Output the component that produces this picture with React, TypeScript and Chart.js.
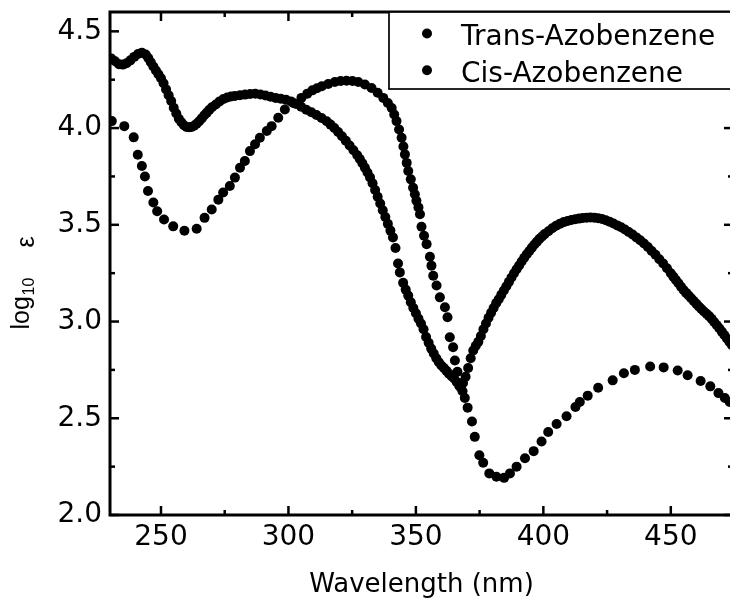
import React, { useEffect, useRef } from "react";
import { Chart, registerables } from "chart.js";

Chart.register(...registerables);

// ---- Data ----
const seriesLabels = ["Trans-Azobenzene", "Cis-Azobenzene"];

const transWavelength = [
  230.7, 235.6, 239.3, 240.9, 242.5, 243.7, 244.9, 247.0, 248.5, 251.2, 254.8, 259.2,
  264.0, 267.1, 269.9, 272.5, 274.4, 277.0, 279.0, 281.0, 282.9, 284.9, 286.9, 288.8,
  291.5, 293.4, 296.0, 298.6, 301.9, 305.1, 307.4, 309.4, 311.2, 313.1, 315.6, 318.2,
  320.5, 322.8, 325.1, 327.4, 330.0, 332.6, 335.0, 337.2, 339.0, 340.5, 341.5, 342.4,
  343.4, 344.4, 345.1, 345.7, 346.4, 347.0, 348.0, 348.9, 349.6, 350.2, 351.0, 351.6,
  352.2, 353.2, 354.2, 355.5, 356.1, 356.8, 358.1, 359.4, 361.4, 362.4, 363.3, 364.6,
  365.3, 366.3, 367.3, 368.3, 369.2, 370.3, 372.0, 373.1, 374.9, 376.4, 378.8, 381.6,
  384.6, 386.9, 389.5, 392.8, 396.2, 399.3, 401.9, 405.2, 409.1, 412.6, 414.3, 417.4,
  421.5, 427.2, 431.6, 435.9, 441.9, 447.2, 452.7, 456.6, 461.7, 465.5, 468.7, 471.2,
  473.1,
];
const transLogE = [
  4.036, 4.010, 3.952, 3.862, 3.804, 3.750, 3.675, 3.615, 3.570, 3.527, 3.492, 3.469,
  3.480, 3.536, 3.579, 3.630, 3.667, 3.701, 3.744, 3.795, 3.830, 3.881, 3.916, 3.950,
  3.985, 4.010, 4.053, 4.096, 4.130, 4.156, 4.178, 4.195, 4.206, 4.216, 4.228, 4.238,
  4.243, 4.245, 4.243, 4.238, 4.225, 4.207, 4.183, 4.156, 4.130, 4.104, 4.070, 4.036,
  3.993, 3.950, 3.905, 3.864, 3.820, 3.778, 3.735, 3.692, 3.658, 3.624, 3.590, 3.555,
  3.490, 3.443, 3.400, 3.335, 3.289, 3.237, 3.186, 3.125, 3.074, 3.022, 2.919, 2.867,
  2.799, 2.740, 2.680, 2.640, 2.605, 2.555, 2.483, 2.404, 2.309, 2.270, 2.215, 2.198,
  2.192, 2.215, 2.250, 2.293, 2.330, 2.380, 2.429, 2.470, 2.510, 2.558, 2.584, 2.617,
  2.658, 2.696, 2.733, 2.750, 2.768, 2.763, 2.747, 2.722, 2.693, 2.665, 2.630, 2.605,
  2.584,
];

const cisWavelength = [
  230.5, 232, 233.5, 235, 236.5, 238, 239.5, 241, 242.5, 244, 245, 246, 247, 248, 249, 250,
  251, 252, 253, 254, 255, 256, 257, 258, 259, 260, 261, 262, 263, 264, 265, 266, 267, 268,
  269, 270, 271.5, 273, 274.5, 276, 277.5, 279, 281, 283, 285, 287, 289, 291, 293, 295, 297,
  299, 301, 303, 305, 307, 309, 311, 313, 315, 316.5, 318, 319.5, 321, 322.5, 324, 325.5,
  327, 328, 329, 330, 331, 332, 333, 334, 335, 336, 337, 338, 339, 340, 341, 342, 343,
  343.7, 345, 346, 347, 348, 349, 350, 351, 352, 353, 354, 355, 356, 357, 358, 359, 360,
  361, 362, 363, 364, 365, 366, 367, 367.5, 368.5, 369.5, 370.5, 371.5, 372.5, 373.5, 374.5,
  375.5, 376.5, 377.5, 378.5, 379.5, 380.5, 381.5, 382.5, 383.5, 384.5, 385.5, 386.5, 387.5,
  388.5, 389.5, 390.5, 391.5, 392.5, 393.5, 394.5, 395.5, 396.5, 397.5, 398.5, 399.5, 400.5,
  402, 403.5, 405, 406.5, 408, 409.5, 411, 412.5, 414, 415.5, 417, 418.5, 420, 421.5, 423,
  424.5, 426, 427.5, 429, 430.5, 432, 433.5, 435, 436.5, 438, 439.5, 441, 442.5, 444, 445.5,
  447, 448.5, 450, 451, 452, 453, 454, 455, 456, 457, 458, 459, 460, 461, 462, 463, 464, 465,
  466, 467, 468, 469, 470, 471, 472, 473, 474,
];
const cisLogE = [
  4.360, 4.345, 4.330, 4.328, 4.335, 4.350, 4.368, 4.383, 4.390, 4.380, 4.362, 4.340, 4.318,
  4.298, 4.278, 4.258, 4.232, 4.200, 4.170, 4.140, 4.105, 4.075, 4.048, 4.030, 4.015, 4.006,
  4.004, 4.006, 4.012, 4.022, 4.035, 4.050, 4.066, 4.080, 4.095, 4.108, 4.122, 4.138, 4.150,
  4.158, 4.163, 4.166, 4.170, 4.173, 4.176, 4.177, 4.174, 4.168, 4.162, 4.156, 4.152, 4.147,
  4.138, 4.125, 4.110, 4.095, 4.082, 4.068, 4.052, 4.035, 4.018, 4.000, 3.980, 3.958, 3.935,
  3.910, 3.885, 3.860, 3.840, 3.818, 3.795, 3.770, 3.745, 3.715, 3.680, 3.645, 3.610, 3.575,
  3.540, 3.505, 3.470, 3.435, 3.380, 3.300, 3.254, 3.200, 3.165, 3.134, 3.100, 3.070, 3.043,
  3.015, 2.990, 2.960, 2.920, 2.890, 2.860, 2.835, 2.810, 2.790, 2.773, 2.760, 2.745, 2.730,
  2.718, 2.706, 2.688, 2.668, 2.660, 2.682, 2.715, 2.760, 2.810, 2.850, 2.875, 2.895, 2.925,
  2.960, 2.990, 3.020, 3.045, 3.070, 3.095, 3.115, 3.138, 3.160, 3.182, 3.205, 3.228, 3.250,
  3.270, 3.290, 3.310, 3.330, 3.348, 3.365, 3.382, 3.398, 3.413, 3.428, 3.440, 3.452, 3.467,
  3.482, 3.495, 3.505, 3.514, 3.520, 3.525, 3.529, 3.532, 3.535, 3.537, 3.538, 3.537, 3.534,
  3.530, 3.524, 3.516, 3.507, 3.497, 3.487, 3.476, 3.463, 3.450, 3.435, 3.420, 3.403, 3.385,
  3.365, 3.345, 3.322, 3.300, 3.275, 3.250, 3.232, 3.215, 3.198, 3.180, 3.163, 3.148, 3.135,
  3.120, 3.106, 3.092, 3.078, 3.065, 3.052, 3.040, 3.028, 3.014, 2.998, 2.982, 2.965, 2.948,
  2.930, 2.912, 2.895, 2.878,
];

// ---- Axes / ticks ----
const xMin = 230;
const xMax = 474.4;
const yMin = 2.0;
const yMax = 4.6;
const xMajorTicks = [250, 300, 350, 400, 450];
const xMinorTicks = [275, 325, 375, 425];
const yMajorTicks = [2.0, 2.5, 3.0, 3.5, 4.0, 4.5];
const yMinorTicks = [2.25, 2.75, 3.25, 3.75, 4.25];
const xTitle = "Wavelength (nm)";
const yTitleMain = "log";
const yTitleSub = "10";
const yTitleSymbol = "ε";

const TICK_FONT = "DejaVu Sans";

const framePlugin = {
  id: "frameTicks",
  afterDatasetsDraw(chart: any) {
    const { ctx, chartArea, scales } = chart;
    const { left, right, top, bottom } = chartArea;
    const xs = scales.x;
    const ys = scales.y;
    ctx.save();
    ctx.strokeStyle = "#000";
    ctx.lineWidth = 3;
    ctx.strokeRect(left, top, right - left, bottom - top);
    ctx.lineWidth = 2.5;
    const seg = (x1: number, y1: number, x2: number, y2: number) => {
      ctx.beginPath();
      ctx.moveTo(x1, y1);
      ctx.lineTo(x2, y2);
      ctx.stroke();
    };
    const xt = (vals: number[], len: number) => {
      vals.forEach((v) => {
        const p = xs.getPixelForValue(v);
        seg(p, bottom, p, bottom - len);
        seg(p, top, p, top + len);
      });
    };
    const yt = (vals: number[], len: number) => {
      vals.forEach((v) => {
        const p = ys.getPixelForValue(v);
        seg(left, p, left + len, p);
        seg(right, p, right - len, p);
      });
    };
    xt(xMajorTicks, 9);
    xt(xMinorTicks, 5);
    yt(yMajorTicks, 9);
    yt(yMinorTicks, 5);
    ctx.restore();
  },
};

const legendPlugin = {
  id: "insetLegend",
  afterDatasetsDraw(chart: any) {
    const { ctx, chartArea } = chart;
    const boxLeft = chartArea.right - 344;
    const boxTop = chartArea.top;
    const boxRight = chart.width + 5;
    const boxHeight = 77;
    ctx.save();
    ctx.fillStyle = "#fff";
    ctx.fillRect(boxLeft, boxTop, boxRight - boxLeft, boxHeight);
    ctx.strokeStyle = "#000";
    ctx.lineWidth = 1.7;
    ctx.strokeRect(boxLeft, boxTop, boxRight - boxLeft, boxHeight);
    ctx.fillStyle = "#000";
    ctx.font = `28px "${TICK_FONT}"`;
    ctx.textBaseline = "alphabetic";
    ctx.textAlign = "left";
    chart.data.datasets.forEach((ds: any, i: number) => {
      const dotY = boxTop + 21.5 + i * 36.8;
      ctx.beginPath();
      ctx.arc(boxLeft + 38, dotY, 5, 0, Math.PI * 2);
      ctx.fill();
      ctx.fillText(ds.label, boxLeft + 72, boxTop + 33 + i * 37);
    });
    ctx.restore();
  },
};

const yTitlePlugin = {
  id: "yTitle",
  afterDraw(chart: any) {
    const { ctx, chartArea } = chart;
    const cy = (chartArea.top + chartArea.bottom) / 2 + 66;
    ctx.save();
    ctx.translate(29, cy);
    ctx.rotate(-Math.PI / 2);
    ctx.fillStyle = "#000";
    ctx.textBaseline = "alphabetic";
    ctx.textAlign = "left";
    ctx.font = '25px "Liberation Sans"';
    ctx.fillText(yTitleMain, 0, 0);
    ctx.font = '16px "Liberation Sans"';
    ctx.fillText(yTitleSub, 34, 5);
    ctx.font = '25px "Liberation Sans"';
    ctx.fillText(yTitleSymbol, 82, 5);
    ctx.restore();
  },
};

export default function App() {
  const ref = useRef<HTMLCanvasElement>(null);

  useEffect(() => {
    const canvas = ref.current;
    if (!canvas) return;
    Chart.defaults.color = "#000";
    const toPoints = (xs: number[], ys: number[]) => xs.map((x, i) => ({ x, y: ys[i] }));
    const chart = new Chart(canvas, {
      type: "scatter",
      data: {
        datasets: [
          {
            label: seriesLabels[0],
            data: toPoints(transWavelength, transLogE),
            backgroundColor: "#000",
            borderColor: "#000",
            borderWidth: 0,
            pointRadius: 5,
            showLine: false,
          },
          {
            label: seriesLabels[1],
            data: toPoints(cisWavelength, cisLogE),
            backgroundColor: "#000",
            borderColor: "#000",
            borderWidth: 0,
            pointRadius: 5,
            showLine: false,
          },
        ],
      },
      options: {
        animation: false,
        responsive: false,
        devicePixelRatio: 1,
        layout: { padding: { left: 0, top: 12, right: 12, bottom: 0 } },
        plugins: {
          legend: { display: false },
          tooltip: { enabled: false },
        },
        scales: {
          x: {
            type: "linear",
            position: "bottom",
            min: xMin,
            max: xMax,
            grid: { display: false, drawTicks: false },
            border: { display: false },
            ticks: {
              stepSize: 50,
              includeBounds: false,
              autoSkip: false,
              maxRotation: 0,
              padding: 6,
              color: "#000",
              font: { family: TICK_FONT, size: 28 },
              callback: (v: any) => String(v),
            },
            title: {
              display: true,
              text: xTitle,
              color: "#000",
              font: { family: TICK_FONT, size: 26 },
              padding: { top: 0, bottom: 5 },
            },
            afterFit: (s: any) => {
              s.height = 91;
              s.paddingLeft = 0;
              s.paddingRight = 0;
            },
          },
          y: {
            type: "linear",
            position: "left",
            min: yMin,
            max: yMax,
            grid: { display: false, drawTicks: false },
            border: { display: false },
            ticks: {
              stepSize: 0.5,
              includeBounds: false,
              padding: 8,
              color: "#000",
              font: { family: TICK_FONT, size: 28 },
              callback: (v: any) => Number(v).toFixed(1),
            },
            afterFit: (s: any) => {
              s.width = 110;
              s.paddingTop = 0;
              s.paddingBottom = 0;
            },
          },
        },
      },
      plugins: [framePlugin, legendPlugin, yTitlePlugin],
    } as any);
    return () => chart.destroy();
  }, []);

  return (
    <div
      style={{
        position: "fixed",
        left: 0,
        top: 0,
        width: 730,
        height: 606,
        overflow: "hidden",
        background: "#fff",
      }}
    >
      <canvas
        ref={ref}
        width={745}
        height={606}
        style={{ display: "block", width: 745, height: 606 }}
      />
    </div>
  );
}
